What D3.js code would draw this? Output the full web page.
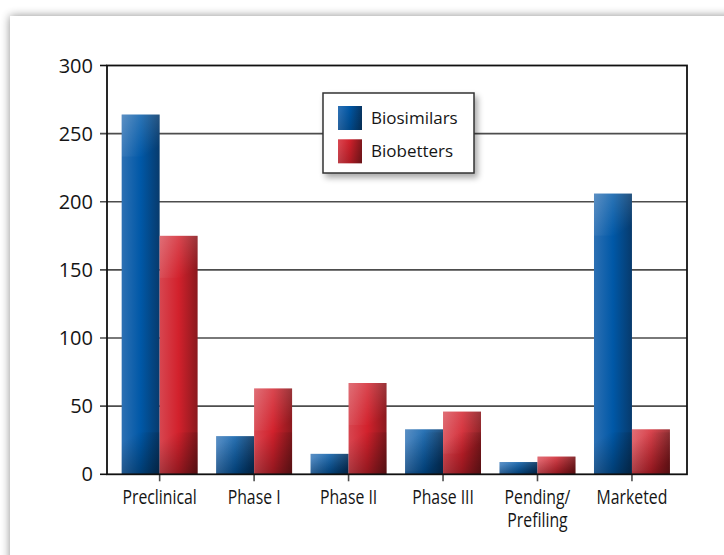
<!DOCTYPE html>
<html>
<head>
<meta charset="utf-8">
<script src="https://cdn.jsdelivr.net/npm/d3@7"></script>
<style>
  html, body { margin: 0; padding: 0; background: #ffffff; }
  svg { display: block; }
</style>
</head>
<body>
<svg id="chart" width="724" height="555"></svg>
<script>
// Pipeline counts by development stage
const categories = ["Preclinical", "Phase I", "Phase II", "Phase III", "Pending/\nPrefiling", "Marketed"];
const seriesNames = ["Biosimilars", "Biobetters"];
const biosimilars = [264, 28, 15, 33, 9, 206];
const biobetters = [175, 63, 67, 46, 13, 33];
const yTicks = [0, 50, 100, 150, 200, 250, 300];

const W = 724, H = 555;
const plot = { left: 107, right: 687, top: 65.5, bottom: 474.3 };

const svg = d3.select("#chart");
const defs = svg.append("defs");

// Soft shadow behind the white card
const cardShadow = defs.append("filter").attr("id", "cardShadow")
  .attr("x", "-10%").attr("y", "-10%").attr("width", "120%").attr("height", "120%");
cardShadow.append("feGaussianBlur").attr("in", "SourceAlpha").attr("stdDeviation", 5).attr("result", "b");
cardShadow.append("feComponentTransfer").attr("in", "b").attr("result", "s")
  .append("feFuncA").attr("type", "linear").attr("slope", 0.45);
const cm = cardShadow.append("feMerge");
cm.append("feMergeNode").attr("in", "s");
cm.append("feMergeNode").attr("in", "SourceGraphic");

// Legend drop shadow
const legShadow = defs.append("filter").attr("id", "legShadow")
  .attr("x", "-20%").attr("y", "-20%").attr("width", "150%").attr("height", "160%");
legShadow.append("feGaussianBlur").attr("in", "SourceAlpha").attr("stdDeviation", 3).attr("result", "b");
legShadow.append("feOffset").attr("in", "b").attr("dx", 3).attr("dy", 4).attr("result", "o");
legShadow.append("feComponentTransfer").attr("in", "o").attr("result", "s")
  .append("feFuncA").attr("type", "linear").attr("slope", 0.35);
const lm = legShadow.append("feMerge");
lm.append("feMergeNode").attr("in", "s");
lm.append("feMergeNode").attr("in", "SourceGraphic");

// Bar shading: horizontal base gradient plus a top highlight and bottom shade
const gradStops = {
  Biosimilars: [["0%", "#2d70b3"], ["50%", "#0058a7"], ["100%", "#073a6c"]],
  Biobetters: [["0%", "#d74650"], ["50%", "#d2212c"], ["100%", "#8a191e"]]
};
const gradId = name => "grad-" + name;
seriesNames.forEach(name => {
  const g = defs.append("linearGradient").attr("id", gradId(name))
    .attr("x1", 0).attr("y1", 0).attr("x2", 1).attr("y2", 0);
  gradStops[name].forEach(([o, c]) => g.append("stop").attr("offset", o).attr("stop-color", c));
});
const hi = defs.append("linearGradient").attr("id", "hilite")
  .attr("x1", 0).attr("y1", 0).attr("x2", 0.6).attr("y2", 1);
hi.append("stop").attr("offset", "0%").attr("stop-color", "#fff").attr("stop-opacity", 0.22);
hi.append("stop").attr("offset", "100%").attr("stop-color", "#fff").attr("stop-opacity", 0);
const sh = defs.append("linearGradient").attr("id", "shade")
  .attr("x1", 0.4).attr("y1", 0).attr("x2", 1).attr("y2", 1);
sh.append("stop").attr("offset", "0%").attr("stop-color", "#000").attr("stop-opacity", 0);
sh.append("stop").attr("offset", "100%").attr("stop-color", "#000").attr("stop-opacity", 0.4);

// Card
svg.append("rect").attr("width", W).attr("height", H).attr("fill", "#ffffff");
svg.append("rect").attr("x", 10).attr("y", 16).attr("width", W + 40).attr("height", H + 40)
  .attr("fill", "#ffffff").attr("filter", "url(#cardShadow)");

// Scales
const x = d3.scaleBand().domain(categories).range([plot.left - 1.2, plot.right - 1.2])
  .paddingInner(0.196).paddingOuter(0.168);
const xs = d3.scaleBand().domain(seriesNames).range([0, x.bandwidth()]);
const y = d3.scaleLinear().domain([0, 300]).range([plot.bottom, plot.top]);

// Horizontal gridlines with outward ticks
svg.append("g").selectAll("line").data(yTicks.filter(t => t > 0 && t < 300)).join("line")
  .attr("x1", plot.left - 7).attr("x2", plot.right)
  .attr("y1", d => y(d)).attr("y2", d => y(d))
  .attr("stroke", "#4d4d4d").attr("stroke-width", 1.6);

// Category ticks below the baseline
svg.append("g").selectAll("line").data(categories).join("line")
  .attr("x1", d => x(d) + x.bandwidth() / 2).attr("x2", d => x(d) + x.bandwidth() / 2)
  .attr("y1", plot.bottom).attr("y2", plot.bottom + 7)
  .attr("stroke", "#4d4d4d").attr("stroke-width", 1.6);

// Bars
const rows = categories.map((c, i) => ({ c, vals: [biosimilars[i], biobetters[i]] }));
const groups = svg.append("g").selectAll("g").data(rows).join("g")
  .attr("transform", d => `translate(${x(d.c)},0)`);
const bars = groups.selectAll("g").data(d => seriesNames.map((s, j) => ({ s, v: d.vals[j] }))).join("g");
const edge = 42; // depth of the corner highlight/shade
bars.append("rect")
  .attr("x", d => xs(d.s)).attr("width", xs.bandwidth())
  .attr("y", d => y(d.v)).attr("height", d => y(0) - y(d.v))
  .attr("fill", d => `url(#${gradId(d.s)})`);
bars.append("rect")
  .attr("x", d => xs(d.s)).attr("width", xs.bandwidth())
  .attr("y", d => y(d.v)).attr("height", d => Math.min(edge, y(0) - y(d.v)))
  .attr("fill", "url(#hilite)");
bars.append("rect")
  .attr("x", d => xs(d.s)).attr("width", xs.bandwidth())
  .attr("y", d => y(0) - Math.min(edge, y(0) - y(d.v)))
  .attr("height", d => Math.min(edge, y(0) - y(d.v)))
  .attr("fill", "url(#shade)");

// Frame
svg.append("rect").attr("x", plot.left).attr("y", plot.top)
  .attr("width", plot.right - plot.left).attr("height", plot.bottom - plot.top)
  .attr("fill", "none").attr("stroke", "#111").attr("stroke-width", 1.8);
// Ticks for 0 and 300 at frame edges
svg.append("g").selectAll("line").data([0, 300]).join("line")
  .attr("x1", plot.left - 7).attr("x2", plot.left)
  .attr("y1", d => y(d)).attr("y2", d => y(d))
  .attr("stroke", "#111").attr("stroke-width", 1.6);

// Y tick labels
svg.append("g").selectAll("text").data(yTicks).join("text")
  .attr("x", 93).attr("y", d => y(d)).attr("dy", "0.35em")
  .attr("text-anchor", "end")
  .attr("font-family", "'Open Sans', sans-serif").attr("font-size", 20)
  .attr("fill", "#151515")
  .text(d => d);

// Category labels (condensed)
const xl = svg.append("g").selectAll("g").data(categories).join("g")
  .attr("transform", d => `translate(${x(d) + x.bandwidth() / 2},504) scale(0.79,1)`);
xl.each(function (d) {
  const lines = d.split("\n");
  const t = d3.select(this).append("text")
    .attr("text-anchor", "middle")
    .attr("font-family", "'Open Sans', sans-serif").attr("font-size", 20)
    .attr("fill", "#151515");
  lines.forEach((ln, i) => t.append("tspan").attr("x", 0).attr("y", i * 22.7).text(ln));
});

// Legend
const legend = svg.append("g").attr("transform", "translate(323,93)");
legend.append("rect").attr("width", 151).attr("height", 80)
  .attr("fill", "#ffffff").attr("stroke", "#333").attr("stroke-width", 1.5)
  .attr("filter", "url(#legShadow)");
seriesNames.forEach((s, i) => {
  const row = legend.append("g").attr("transform", `translate(15,${13 + i * 33.3})`);
  row.append("rect").attr("width", 24).attr("height", 24).attr("fill", `url(#${gradId(s)})`);
  row.append("rect").attr("width", 24).attr("height", 24).attr("fill", "url(#shade)").attr("opacity", 0.6);
  row.append("text").attr("x", 33).attr("y", 17.7)
    .attr("font-family", "'Open Sans', sans-serif").attr("font-size", 17)
    .attr("fill", "#151515").text(s);
});
</script>
</body>
</html>
